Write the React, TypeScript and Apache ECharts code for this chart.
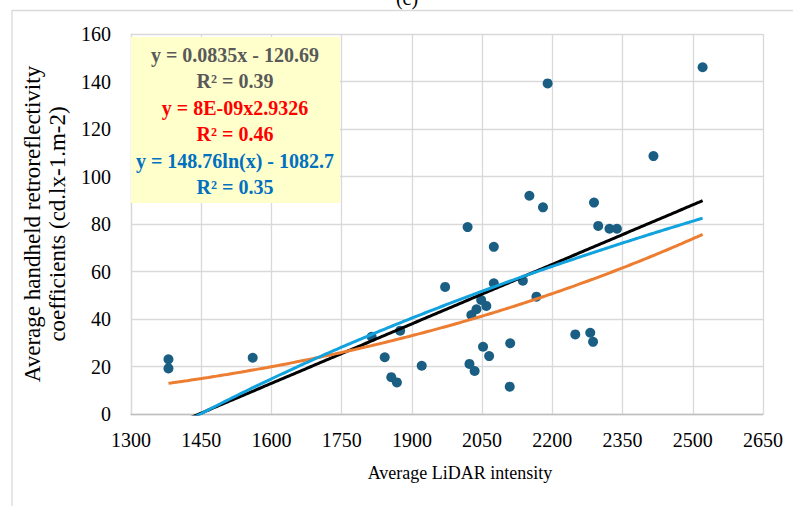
import React, { useEffect, useRef } from "react";
import * as echarts from "echarts";

// Observed points: average LiDAR intensity (x) vs handheld retroreflectivity (y)
const lidarIntensity = [
  1380, 1380, 1560, 1814, 1842, 1856, 1868, 1875, 1921, 1971,
  2019, 2023, 2027, 2034, 2038, 2048, 2052, 2059, 2065, 2075,
  2075, 2109, 2110, 2137, 2151, 2166, 2180, 2190, 2249, 2281,
  2287, 2289, 2298, 2322, 2338, 2416, 2521,
];
const retroCoeff = [
  23.0, 19.2, 23.7, 32.5, 23.9, 15.5, 13.3, 35.1, 20.3, 53.5,
  78.7, 21.1, 41.7, 18.1, 44.1, 48.0, 28.3, 45.5, 24.4, 70.4,
  55.0, 11.5, 29.8, 56.1, 91.9, 49.4, 87.0, 139.2, 33.5, 34.2,
  30.4, 89.0, 79.2, 78.0, 78.0, 108.6, 146.0,
];

// Trendline coefficients as printed on the chart
const linearFit = [0.0835, -120.69]; // y = a x + b
const powerFit = [8e-9, 2.9326]; // y = a x^b
const logFit = [148.76, -1082.7]; // y = a ln(x) + b

const xTicks = [1300, 1450, 1600, 1750, 1900, 2050, 2200, 2350, 2500, 2650];
const yTicks = [0, 20, 40, 60, 80, 100, 120, 140, 160];

const equationLines = [
  "y = 0.0835x - 120.69",
  "R² = 0.39",
  "y = 8E-09x2.9326",
  "R² = 0.46",
  "y = 148.76ln(x) - 1082.7",
  "R² = 0.35",
];

const FONT = "'Liberation Serif', 'Times New Roman', serif";

function trend(fn: (x: number) => number): number[][] {
  const lo = Math.min(...lidarIntensity);
  const hi = Math.max(...lidarIntensity);
  const pts: number[][] = [];
  const steps = 200;
  for (let i = 0; i <= steps; i++) {
    const x = lo + ((hi - lo) * i) / steps;
    pts.push([x, fn(x)]);
  }
  return pts;
}

export default function App() {
  const ref = useRef<HTMLDivElement>(null);
  useEffect(() => {
    if (!ref.current) return;
    const chart = echarts.init(ref.current, null, { renderer: "svg" });
    const scatterData = lidarIntensity.map((x, i) => [x, retroCoeff[i]]);
    const linear = trend((x) => linearFit[0] * x + linearFit[1]);
    const power = trend((x) => powerFit[0] * Math.pow(x, powerFit[1]));
    const logarithmic = trend((x) => logFit[0] * Math.log(x) + logFit[1]);
    const eqColors = ["#595959", "#595959", "#FF0000", "#FF0000", "#0070C0", "#0070C0"];

    chart.setOption({
      animation: false,
      backgroundColor: "#ffffff",
      grid: { left: 131, right: 30, top: 34, bottom: 92 },
      xAxis: {
        type: "value",
        min: xTicks[0],
        max: xTicks[xTicks.length - 1],
        axisTick: { show: false, customValues: xTicks },
        axisLabel: {
          customValues: xTicks,
          formatter: (v: number) => String(v),
          fontSize: 20,
          color: "#000",
          fontFamily: FONT,
          margin: 16,
        },
        axisLine: { show: true, lineStyle: { color: "#BFBFBF", width: 1.3 } },
        splitLine: { show: true, lineStyle: { color: "#D9D9D9", width: 1.3 } },
        name: "Average LiDAR intensity",
        nameLocation: "middle",
        nameGap: 50,
        nameTextStyle: {
          fontSize: 18,
          color: "#000",
          fontFamily: FONT,
          padding: [0, 0, 0, 26],
        },
      },
      yAxis: {
        type: "value",
        min: yTicks[0],
        max: yTicks[yTicks.length - 1],
        interval: 20,
        axisTick: { show: false },
        axisLabel: {
          formatter: (v: number) => String(v),
          fontSize: 20,
          color: "#000",
          fontFamily: FONT,
          margin: 20,
        },
        axisLine: { show: true, lineStyle: { color: "#D9D9D9", width: 1.3 } },
        splitLine: { show: true, lineStyle: { color: "#D9D9D9", width: 1.3 } },
        name: "Average handheld retroreflectivity\ncoefficients (cd.lx-1.m-2)",
        nameLocation: "middle",
        nameGap: 45,
        nameTextStyle: {
          fontSize: 23,
          lineHeight: 25,
          color: "#000",
          fontFamily: FONT,
        },
      },
      series: [
        {
          type: "scatter",
          data: scatterData,
          symbolSize: 10,
          itemStyle: { color: "#1A5E84", opacity: 1 },
          z: 2,
        },
        {
          type: "line",
          data: linear,
          showSymbol: false,
          clip: true,
          lineStyle: { color: "#000000", width: 3 },
          z: 3,
        },
        {
          type: "line",
          data: power,
          showSymbol: false,
          clip: true,
          lineStyle: { color: "#ED7D31", width: 3 },
          z: 4,
        },
        {
          type: "line",
          data: logarithmic,
          showSymbol: false,
          clip: true,
          lineStyle: { color: "#12A2DD", width: 3 },
          z: 5,
        },
      ],
      graphic: [
        {
          type: "line",
          shape: { x1: 12, y1: 10.5, x2: 793, y2: 10.5 },
          style: { stroke: "#D9D9D9", lineWidth: 1.3 },
          silent: true,
        },
        {
          type: "line",
          shape: { x1: 12, y1: 10, x2: 12, y2: 506 },
          style: { stroke: "#D9D9D9", lineWidth: 1.3 },
          silent: true,
        },
        {
          type: "text",
          x: 407,
          y: 8,
          style: {
            text: "(c)",
            fontSize: 20,
            fontFamily: FONT,
            fill: "#000",
            align: "center",
            verticalAlign: "bottom",
          },
          silent: true,
        },
        {
          type: "group",
          z: 100,
          children: [
            {
              type: "rect",
              shape: { x: 131, y: 37, width: 209, height: 166 },
              style: { fill: "#FFFFCC" },
              z: 100,
            },
            ...equationLines.map((t, i) => ({
              type: "text",
              x: 235,
              y: 55 + i * 26.4,
              z: 101,
              style: {
                text: t,
                fontSize: 20,
                fontWeight: "bold",
                fontFamily: FONT,
                fill: eqColors[i],
                align: "center",
                verticalAlign: "middle",
              },
            })),
          ],
        },
      ],
    });
    return () => chart.dispose();
  }, []);
  return (
    <div
      ref={ref}
      style={{ position: "fixed", left: 0, top: 0, width: 793, height: 506 }}
    />
  );
}
